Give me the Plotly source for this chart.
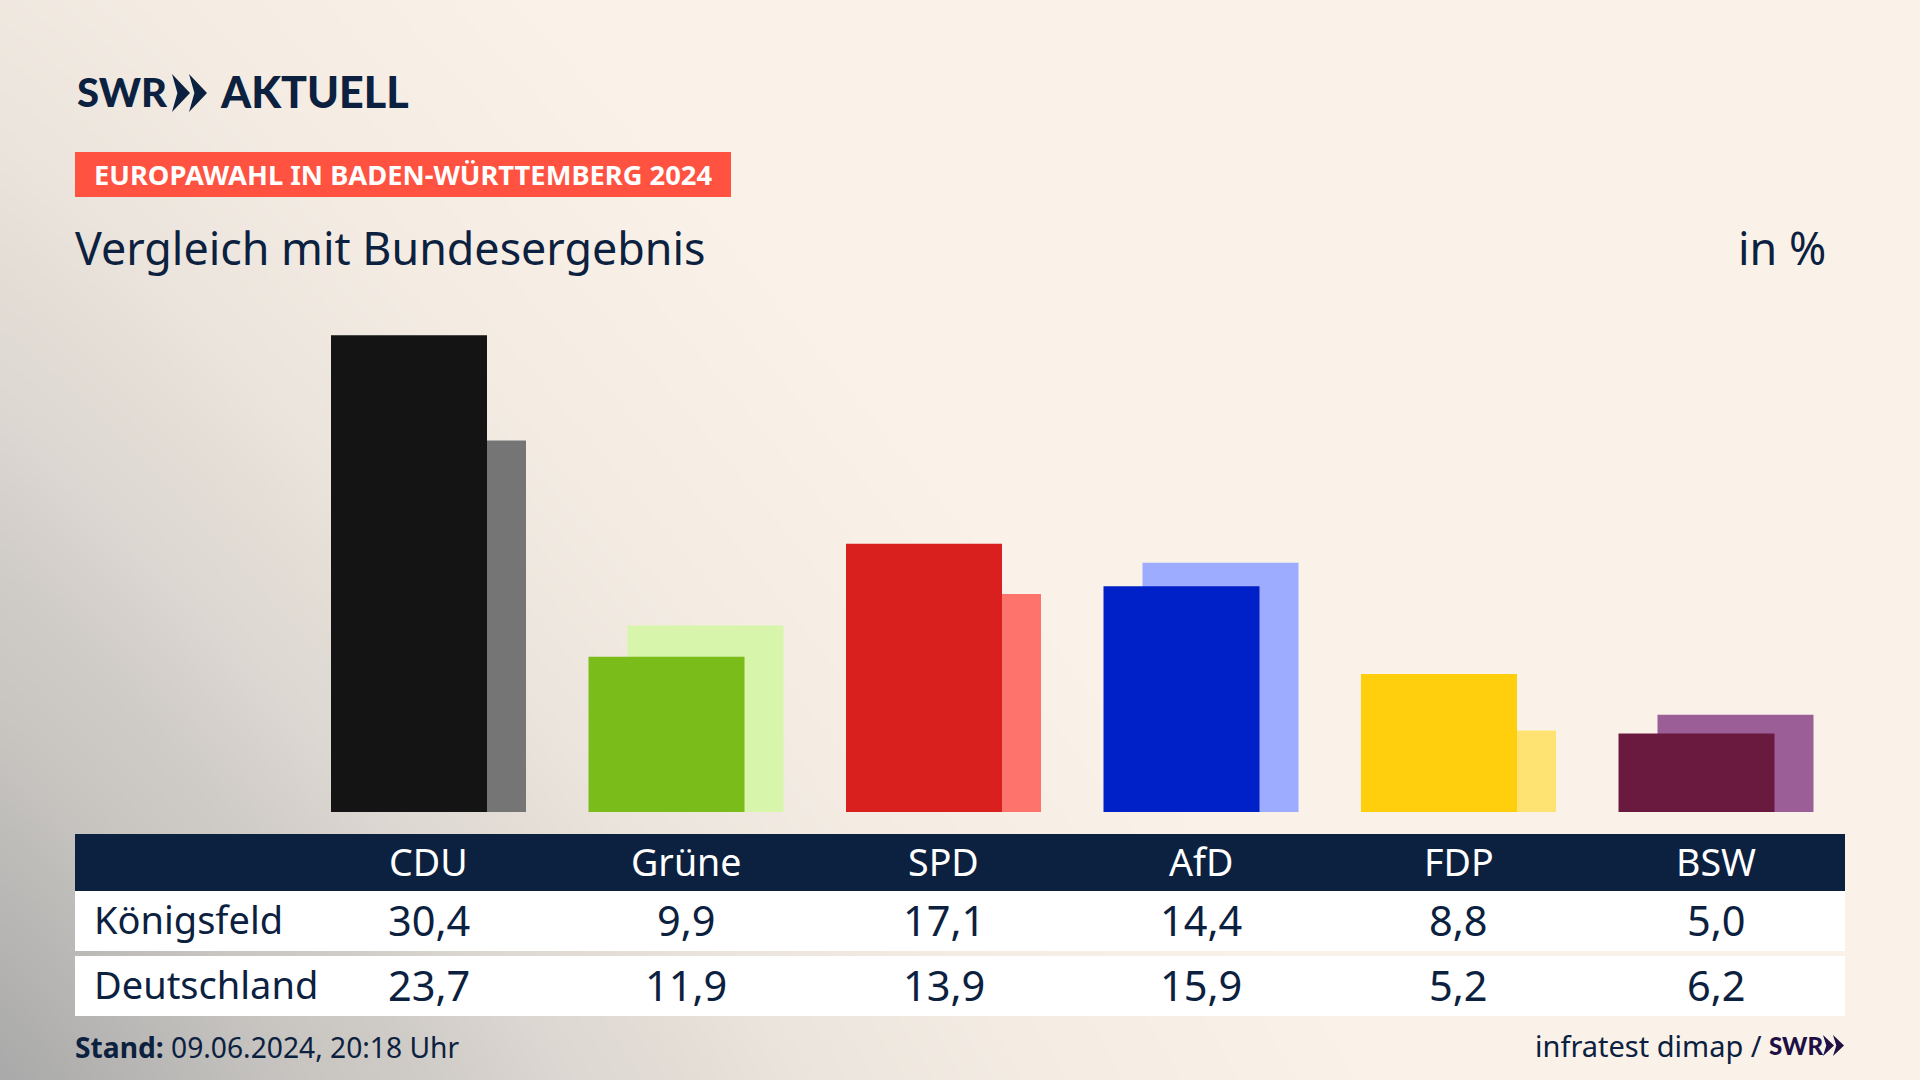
import numpy as np
import plotly.graph_objects as go

W, H = 1920, 1080

parties = ["CDU", "Grüne", "SPD", "AfD", "FDP", "BSW"]
koenigsfeld = [30.4, 9.9, 17.1, 14.4, 8.8, 5.0]
deutschland = [23.7, 11.9, 13.9, 15.9, 5.2, 6.2]
colors_front = ["#141414", "#7abd1a", "#d9201f", "#0020c8", "#ffce0c", "#6b1a3f"]
colors_back = ["#757575", "#d7f5ab", "#ff736d", "#9eacff", "#ffe372", "#9b5e96"]

NAVY = "#0c2140"
FONT = "Noto Sans"
LOGO_FONT = "Lato"

# geometry in screen pixels
PITCH = 257.5
FIRST_CENTER = 428.5
BAR_W = 156
BAR_OFF = 39
BASE_Y = 812
PX_PER_PCT = 15.68


def px(x):
    return x / W


def py(y):
    return 1 - y / H


def rect(x0, y0, x1, y1, color):
    return dict(type="rect", xref="paper", yref="paper", x0=px(x0), x1=px(x1),
                y0=py(y1), y1=py(y0), fillcolor=color, line_width=0)


def poly(points, color):
    path = "M " + " L ".join(f"{px(x):.5f},{py(y):.5f}" for x, y in points) + " Z"
    return dict(type="path", xref="paper", yref="paper", path=path, fillcolor=color, line_width=0)


def chevrons(x, y0, y1, w, gap, color):
    # the two arrows of the SWR logo
    mid = (y0 + y1) / 2
    out = []
    for i in range(2):
        left = x + i * gap
        out.append(poly([(left, y0), (left + w, mid), (left, y1), (left + w * 0.3, mid)], color))
    return out


def text(x, y, s, size, color=NAVY, anchor="left", font=FONT, weight=None):
    return dict(x=px(x), y=py(y), xref="paper", yref="paper", text=s, showarrow=False,
                xanchor=anchor, yanchor="middle", align=anchor,
                font=dict(family=font, size=size, color=color, weight=weight))


def fmt(v):
    return f"{v:.1f}".replace(".", ",")


# background: cream, going grey towards the lower left corner
gx = np.linspace(0, 1, 97)
gy = np.linspace(0, 1, 55)
GX, GY = np.meshgrid(gx, gy)
glow = ((GX / 0.72) ** 1.1 + (GY / 1.5) ** 1.1) ** (1 / 1.1)
bg = go.Heatmap(x=gx, y=gy, z=np.clip(glow, 0, 1), zmin=0, zmax=1, zsmooth="best", showscale=False,
                hoverinfo="skip", xaxis="x", yaxis="y",
                colorscale=[[0, "#a9a9a9"], [0.23, "#c9c6c2"], [0.31, "#cfcbc6"], [0.42, "#ddd8d2"],
                            [0.49, "#e2dcd5"], [0.58, "#ebe4dc"], [0.75, "#f4ece3"], [1, "#faf2e8"]])

bar_unit = BAR_W / PITCH
off_front = -(BAR_W + BAR_OFF) / 2 / PITCH
off_back = off_front + BAR_OFF / PITCH

back = go.Bar(x=parties, y=deutschland, width=bar_unit, offset=off_back, marker_color=colors_back,
              marker_line_width=0, xaxis="x2", yaxis="y2", name="Deutschland")
front = go.Bar(x=parties, y=koenigsfeld, width=bar_unit, offset=off_front, marker_color=colors_front,
               marker_line_width=0, xaxis="x2", yaxis="y2", name="Königsfeld")

fig = go.Figure([bg, back, front])

shapes = [
    rect(75, 152, 731, 197, "#ff5240"),
    rect(75, 834, 1845, 891, NAVY),
    rect(75, 891, 1845, 951, "#ffffff"),
    rect(75, 956, 1845, 1016, "#ffffff"),
]
shapes += chevrons(172, 74, 112, 18, 17, NAVY)
shapes += chevrons(1823, 1035, 1056, 11, 10, "#1e0f45")

annotations = [
    text(75, 92, "SWR", 40, font=LOGO_FONT, weight=900),
    text(218, 92, "AKTUELL", 43, font=LOGO_FONT, weight=900),
    text(92, 175, "<b>EUROPAWAHL IN BADEN-WÜRTTEMBERG 2024</b>", 27.3, color="#ffffff"),
    text(73, 247, "Vergleich mit Bundesergebnis", 44.8),
    text(1828, 247, "in %", 44.8, anchor="right"),
    text(92, 919, "Königsfeld", 38),
    text(92, 984, "Deutschland", 38),
    text(73, 1047, "<b>Stand:</b> 09.06.2024, 20:18 Uhr", 28.2),
    text(1764, 1045, "infratest dimap /", 29, anchor="right"),
    text(1767, 1045, "SWR", 24, color="#1e0f45", font=LOGO_FONT, weight=900),
]
for i, party in enumerate(parties):
    x = FIRST_CENTER + i * PITCH
    annotations.append(text(x, 861, party, 37.6, color="#ffffff", anchor="center"))
    annotations.append(text(x, 920, fmt(koenigsfeld[i]), 41.5, anchor="center"))
    annotations.append(text(x, 985, fmt(deutschland[i]), 41.5, anchor="center"))

fig.update_layout(
    width=W, height=H, margin=dict(l=0, r=0, t=0, b=0), paper_bgcolor="#faf2e8", plot_bgcolor="rgba(0,0,0,0)",
    showlegend=False, barmode="overlay", shapes=shapes, annotations=annotations,
    xaxis=dict(range=[0, 1], visible=False, domain=[0, 1]),
    yaxis=dict(range=[0, 1], visible=False, domain=[0, 1]),
    xaxis2=dict(type="category", categoryorder="array", categoryarray=parties, overlaying="x", visible=False,
                range=[-FIRST_CENTER / PITCH, (W - FIRST_CENTER) / PITCH]),
    yaxis2=dict(overlaying="y", visible=False,
                range=[-(H - BASE_Y) / PX_PER_PCT, BASE_Y / PX_PER_PCT]),
)

fig.write_html("out.html", config=dict(displayModeBar=False),
               post_script="document.body.style.margin='0';document.body.style.overflow='hidden';")
